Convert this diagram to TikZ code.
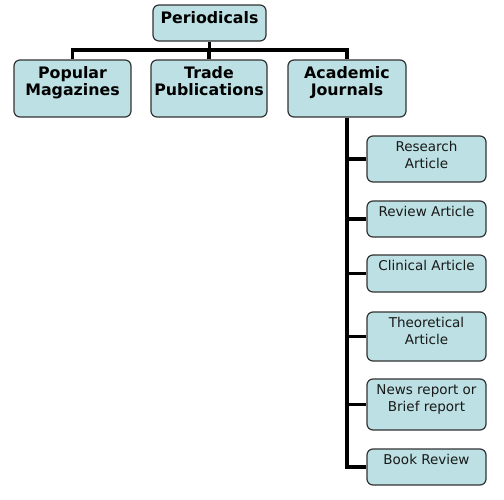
\documentclass[tikz,border=0pt]{standalone}
\usepackage{fontspec}
\setmainfont{DejaVu Sans}
\begin{document}
\begin{tikzpicture}[x=1pt,y=1pt,
  box/.style={draw=black!80, line width=1.2pt, fill=boxfill, rounded corners=6pt, inner sep=0pt},
  toptext/.style={font=\bfseries\fontsize{15.8}{17}\selectfont, align=center, anchor=north, inner sep=0pt, text=black},
  subtext/.style={font=\fontsize{13.5}{17}\selectfont, align=center, anchor=north, inner sep=0pt, text=black!90},
  conn/.style={line width=3.2pt, black}]
\definecolor{boxfill}{HTML}{BCE0E3}
\useasboundingbox (0,0) rectangle (504,-499);
% connectors
\coordinate (hb) at (209.5,-50);
% top-level boxes
\node[box, minimum width=113, minimum height=36] (per) at (209.5,-23) {};
\node[box, minimum width=117, minimum height=57] (pop) at (72.5,-88.5) {};
\node[box, minimum width=116, minimum height=57] (tra) at (209,-88.5) {};
\node[box, minimum width=118, minimum height=57] (aca) at (347,-88.5) {};
% children
\node[box, minimum width=119, minimum height=46] (res) at (426.5,-159) {};
\node[box, minimum width=119, minimum height=36] (rev) at (426.5,-219) {};
\node[box, minimum width=119, minimum height=37] (cli) at (426.5,-273.5) {};
\node[box, minimum width=119, minimum height=49] (the) at (426.5,-336.5) {};
\node[box, minimum width=119, minimum height=51] (new) at (426.5,-404.5) {};
\node[box, minimum width=119, minimum height=36] (boo) at (426.5,-467) {};
% texts
\node[toptext] (pert) at ([yshift=-7]per.north) {Periodicals};
\node[toptext] (popt) at ([yshift=-7]pop.north) {Popular\\Magazines};
\node[toptext] (trat) at ([yshift=-7]tra.north) {Trade\\Publications};
\node[toptext] (acat) at ([yshift=-7]aca.north) {Academic\\Journals};
\node[subtext] (rest) at ([yshift=-6]res.north) {Research\\Article};
\node[subtext] (revt) at ([yshift=-6]rev.north) {Review Article};
\node[subtext] (clit) at ([yshift=-6]cli.north) {Clinical Article};
\node[subtext] (thet) at ([yshift=-6]the.north) {Theoretical\\Article};
\node[subtext] (newt) at ([yshift=-6]new.north) {News report or\\Brief report};
\node[subtext] (boot) at ([yshift=-6]boo.north) {Book Review};
% connectors
\draw[conn] (per.south) -- (hb);
\draw[conn] (pop.north) |- (hb) -| (aca.north);
\draw[conn] (tra.north) -- (tra.north |- hb);
\draw[conn] (aca.south) |- (boo.west);
\foreach \c in {res,rev,cli,the,new}
  \draw[conn] (aca.south |- \c.west) -- (\c.west);
\end{tikzpicture}
\end{document}
